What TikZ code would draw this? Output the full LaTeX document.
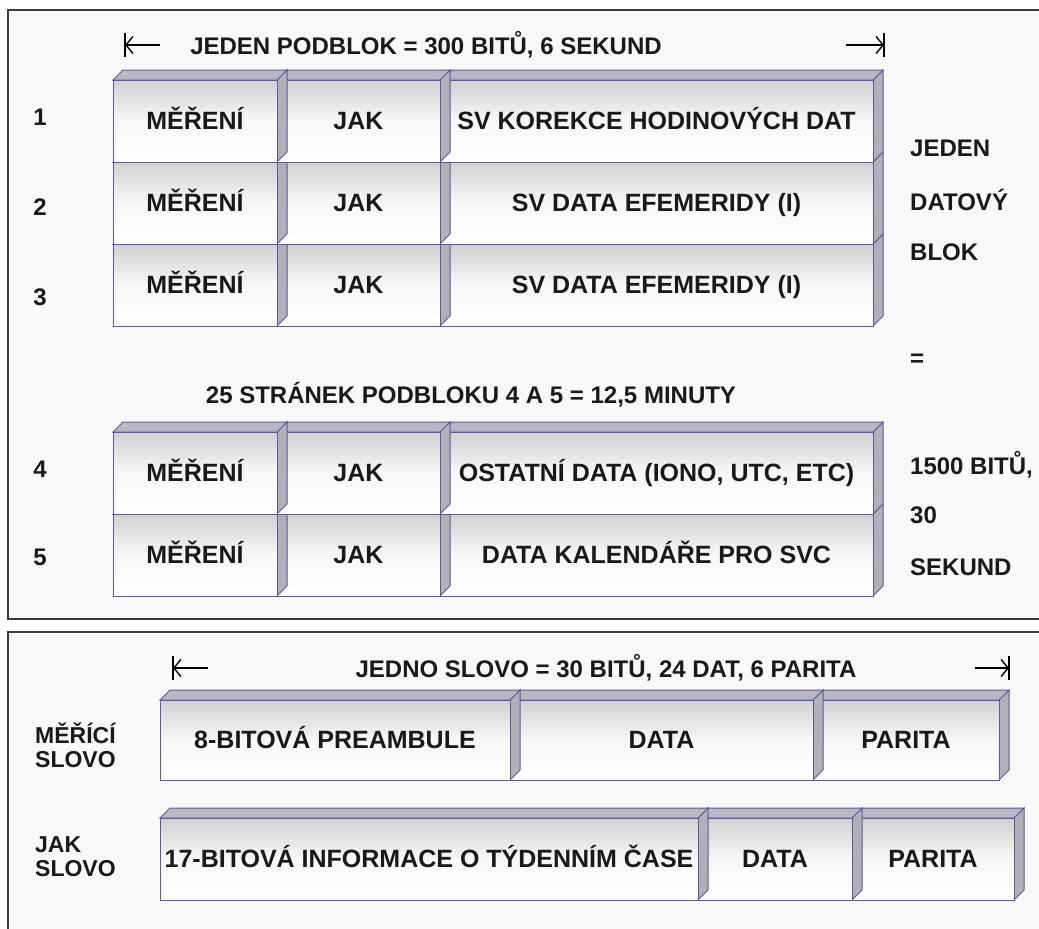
\documentclass[tikz,border=0pt]{standalone}
\usepackage{fontspec}
\setmainfont{Liberation Sans}
\usetikzlibrary{arrows.meta}
\definecolor{edge}{HTML}{5A5A9E}
\definecolor{facetop}{HTML}{D0D0D2}
\definecolor{topgray}{HTML}{B8B8C4}
\definecolor{sidegray}{HTML}{B0B0B8}
\definecolor{framegray}{HTML}{3C3C3C}
\definecolor{paper}{HTML}{F8F8F9}
\newcommand{\bev}{10}
% one bevelled cell: x1, y1, x2, y2, name, text
\newcommand{\cell}[6]{%
\filldraw[sideface] (#3,#2) -- ++(\bev,-\bev) -- (#3+\bev,#4-\bev) -- (#3,#4) -- cycle;
\filldraw[topface] (#1,#2) -- ++(\bev,-\bev) -- (#3+\bev,#2-\bev) -- (#3,#2) -- cycle;
\shadedraw[frontface] (#1,#2) rectangle (#3,#4);
\node[lbl] (#5) at ({(#1+#3)/2},{(#2+#4)/2+8}) {#6};
}
\tikzset{
frontface/.style={top color=facetop, bottom color=white, middle color=gray!6, draw=edge, line width=1pt},
topface/.style={fill=topgray, draw=edge, line width=1pt},
sideface/.style={fill=sidegray, draw=edge, line width=1pt},
lbl/.style={font=\bfseries\fontsize{25}{28}\selectfont, text=black!90, inner sep=0pt, anchor=base},
txt/.style={font=\bfseries\fontsize{24}{26}\selectfont, text=black!90, inner sep=0pt},
sidelbl/.style={txt, anchor=west},
dim/.style={line width=1.4pt, -{Straight Barb[length=7pt,width=17pt,line width=1.4pt]}},
dimbar/.style={line width=1.4pt},
frame/.style={draw=framegray, fill=paper, line width=1.5pt}
}

\begin{document}
\begin{tikzpicture}[x=1pt,y=-1pt]
\useasboundingbox[fill=white] (0,0) rectangle (1039,929);
\draw[frame] (8,10) rectangle (1060,619);
\draw[frame] (8,632) rectangle (1060,945);
%podblok header
\coordinate (la) at (125,45);
\coordinate (lat) at (160,45);
\coordinate (ra) at (884,45);
\coordinate (rat) at (846,45);
\draw[dim] (lat) -- (la);
\draw[dim] (rat) -- (ra);
\draw[dimbar] (la) ++(0,-12) -- ++(0,24);
\draw[dimbar] (ra) ++(0,-12) -- ++(0,24);
\node[txt] (podblok) at (426,45) {JEDEN PODBLOK = 300 BITŮ, 6 SEKUND};
%rows 3,2,1
\cell{440}{244}{873}{326}{sv3}{SV DATA EFEMERIDY (I)}
\cell{277}{244}{440}{326}{j3}{JAK}
\cell{113}{244}{277}{326}{m3}{MĚŘENÍ}
\cell{440}{162}{873}{244}{sv2}{SV DATA EFEMERIDY (I)}
\cell{277}{162}{440}{244}{j2}{JAK}
\cell{113}{162}{277}{244}{m2}{MĚŘENÍ}
\cell{440}{80}{873}{162}{sv1}{SV KOREKCE HODINOVÝCH DAT}
\cell{277}{80}{440}{162}{j1}{JAK}
\cell{113}{80}{277}{162}{m1}{MĚŘENÍ}
\node[txt] (n1) at (40,117) {1};
\node[txt] (n2) at (40,207) {2};
\node[txt] (n3) at (40,297) {3};
%pages
\node[txt] (pages) at (471,395) {25 STRÁNEK PODBLOKU 4 A 5 = 12,5 MINUTY};
%rows 5,4
\cell{440}{514}{873}{596}{sv5}{DATA KALENDÁŘE PRO SVC}
\cell{277}{514}{440}{596}{j5}{JAK}
\cell{113}{514}{277}{596}{m5}{MĚŘENÍ}
\cell{440}{432}{873}{514}{sv4}{OSTATNÍ DATA (IONO, UTC, ETC)}
\cell{277}{432}{440}{514}{j4}{JAK}
\cell{113}{432}{277}{514}{m4}{MĚŘENÍ}
\node[txt] (n4) at (40,469) {4};
\node[txt] (n5) at (40,557) {5};
%right column
\node[sidelbl] (jeden) at (910,148) {JEDEN};
\node[sidelbl] (datovy) at (910,200) {DATOVÝ};
\node[sidelbl] (blok) at (910,252) {BLOK};
\node[sidelbl] (rovno) at (910,360) {=};
\node[sidelbl] (bitu) at (910,465) {1500 BITŮ,};
\node[sidelbl] (tricet) at (910,515) {30};
\node[sidelbl] (sekund) at (910,567) {SEKUND};
%slovo header
\coordinate (lb) at (173,668);
\coordinate (lbt) at (208,668);
\coordinate (rb) at (1009,668);
\coordinate (rbt) at (975,668);
\draw[dim] (lbt) -- (lb);
\draw[dim] (rbt) -- (rb);
\draw[dimbar] (lb) ++(0,-12) -- ++(0,24);
\draw[dimbar] (rb) ++(0,-12) -- ++(0,24);
\node[txt] (slovo) at (606,668) {JEDNO SLOVO = 30 BITŮ, 24 DAT, 6 PARITA};
%jak slovo
\cell{852}{818}{1014}{900}{par2}{PARITA}
\cell{698}{818}{852}{900}{dat2}{DATA}
\cell{160}{818}{698}{900}{inf}{17-BITOVÁ INFORMACE O TÝDENNÍM ČASE}
%merici slovo
\cell{813}{700}{999}{780}{par1}{PARITA}
\cell{510}{700}{813}{780}{dat1}{DATA}
\cell{160}{700}{510}{780}{pre}{8-BITOVÁ PREAMBULE}
\node[txt, align=left, anchor=west, font=\bfseries\fontsize{23}{24}\selectfont] (merici) at (35,745) {MĚŘÍCÍ\\SLOVO};
\node[txt, align=left, anchor=west, font=\bfseries\fontsize{23}{24}\selectfont] (jakslovo) at (35,857) {JAK\\SLOVO};
\end{tikzpicture}
\end{document}
